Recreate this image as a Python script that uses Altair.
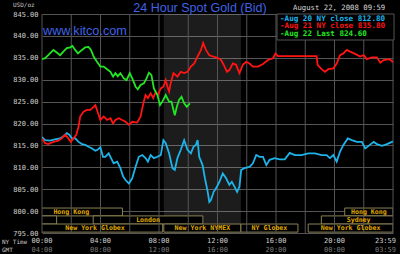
import altair as alt
import pandas as pd

# ---------------- data (hours after 00:00 NY time, USD/oz) ----------------
aug20_t = [0.0, 0.21, 0.55, 0.89, 1.24, 1.46, 1.70, 1.88, 2.04, 2.27, 2.50, 2.73, 2.96, 3.18, 3.42,
           3.65, 3.80, 3.99, 4.17, 4.33, 4.56, 4.72, 4.90, 5.14, 5.36, 5.55, 5.71, 5.94, 6.17, 6.40,
           6.62, 6.86, 7.08, 7.24, 7.43, 7.65, 7.89, 8.12, 8.30, 8.46, 8.69, 8.92, 9.08, 9.26, 9.49,
           9.72, 9.95, 10.18, 10.36, 10.52, 10.64, 10.75, 10.98, 11.14, 11.33, 11.44, 11.55, 11.74,
           11.90, 12.13, 12.36, 12.59, 12.81, 12.98, 13.16, 13.34, 13.50, 13.62, 13.84, 14.19, 14.42,
           14.65, 14.88, 15.11, 15.34, 15.56, 15.91, 16.25, 16.60, 16.94, 17.28, 17.74, 18.21, 18.66,
           19.12, 19.46, 19.69, 19.92, 20.15, 20.38, 20.61, 20.91, 21.18, 21.53, 21.87, 22.10, 22.33,
           22.68, 22.90, 23.25, 23.59, 23.93, 23.98]
aug20_p = [816.9, 816.2, 816.1, 816.4, 816.6, 817.1, 817.8, 817.4, 816.6, 816.6, 815.8, 815.3, 815.1,
           814.7, 814.3, 813.8, 814.0, 814.6, 812.4, 812.4, 813.2, 812.1, 810.9, 811.3, 809.8, 807.9,
           807.1, 806.3, 807.5, 810.1, 812.4, 812.8, 812.1, 811.3, 812.8, 812.1, 812.4, 812.8, 816.2,
           815.5, 813.2, 809.8, 809.4, 812.1, 814.0, 816.2, 814.0, 813.2, 814.7, 815.1, 816.2, 812.4,
           810.5, 807.5, 804.4, 802.1, 802.5, 804.4, 805.2, 806.7, 808.6, 807.5, 806.0, 806.7, 805.6,
           804.4, 805.6, 809.4, 809.8, 810.1, 810.9, 812.8, 812.4, 812.4, 810.5, 811.7, 812.1, 811.8,
           811.8, 813.3, 812.8, 812.8, 813.2, 813.2, 812.8, 812.8, 812.1, 812.8, 811.3, 813.6, 815.1,
           816.6, 816.2, 815.8, 815.8, 814.3, 814.9, 815.8, 815.3, 814.9, 815.3, 815.8, 816.0]

aug21_t = [0.0, 0.21, 0.43, 0.78, 1.12, 1.35, 1.58, 1.81, 1.97, 2.15, 2.34, 2.50, 2.61, 2.84, 3.07,
           3.30, 3.53, 3.65, 3.80, 3.99, 4.22, 4.45, 4.68, 4.86, 5.02, 5.25, 5.48, 5.71, 5.94, 6.17,
           6.51, 6.74, 6.93, 7.08, 7.24, 7.43, 7.61, 7.77, 7.93, 8.12, 8.30, 8.46, 8.58, 8.69, 8.80,
           8.99, 9.26, 9.49, 9.72, 9.95, 10.18, 10.41, 10.64, 10.87, 11.02, 11.21, 11.44, 11.67, 12.01,
           12.24, 12.47, 12.65, 12.81, 13.05, 13.27, 13.50, 13.73, 13.96, 14.19, 14.42, 14.77, 15.11,
           15.45, 15.80, 15.96, 16.14, 18.78, 18.84, 19.12, 19.35, 19.58, 19.92, 20.15, 20.38, 20.61,
           20.84, 21.07, 21.41, 21.75, 21.99, 22.21, 22.56, 22.90, 23.13, 23.36, 23.71, 23.93, 23.98]
aug21_p = [816.6, 815.5, 815.3, 815.8, 816.1, 816.6, 817.4, 816.6, 815.8, 816.6, 817.4, 819.3, 821.6,
           822.7, 823.1, 823.1, 823.8, 824.2, 822.7, 820.8, 821.6, 820.8, 821.2, 820.0, 820.8, 821.2,
           820.8, 820.4, 819.7, 820.4, 820.2, 821.6, 824.6, 826.5, 825.8, 826.9, 825.8, 827.2, 826.5,
           828.0, 828.4, 829.9, 828.4, 827.3, 829.2, 831.5, 830.7, 831.8, 831.5, 831.8, 833.0, 833.7,
           835.3, 836.8, 838.4, 836.8, 835.6, 835.3, 835.0, 834.5, 833.1, 831.8, 832.2, 833.7, 833.4,
           831.5, 833.4, 834.1, 833.7, 833.0, 833.0, 833.6, 834.5, 834.9, 836.0, 835.4, 835.4, 833.4,
           832.4, 831.8, 832.4, 832.6, 833.7, 835.6, 836.0, 836.8, 836.4, 835.9, 835.3, 835.6, 834.7,
           835.1, 835.1, 833.9, 834.5, 834.7, 834.3, 833.9]

aug22_t = [0.0, 0.21, 0.43, 0.78, 1.01, 1.24, 1.46, 1.70, 1.93, 2.08, 2.27, 2.46, 2.73, 2.96, 3.18,
           3.35, 3.53, 3.76, 3.99, 4.22, 4.45, 4.68, 4.86, 5.02, 5.18, 5.36, 5.59, 5.78, 6.00, 6.17,
           6.40, 6.55, 6.74, 6.97, 7.15, 7.31, 7.48, 7.65, 7.89, 8.07, 8.23, 8.46, 8.69, 8.85, 8.99,
           9.08, 9.22, 9.37, 9.54, 9.72, 9.90, 10.11]
aug22_p = [834.7, 834.9, 835.6, 836.8, 836.2, 835.6, 836.4, 837.2, 837.4, 837.7, 836.8, 836.0, 836.8,
           837.4, 837.5, 836.8, 835.3, 834.1, 833.0, 833.0, 832.4, 831.8, 830.7, 831.5, 830.8, 831.5,
           830.3, 829.9, 831.5, 830.3, 828.4, 827.8, 828.8, 829.2, 830.3, 831.6, 831.1, 828.0, 826.5,
           824.2, 825.0, 826.5, 825.0, 825.0, 823.1, 821.9, 823.8, 825.4, 826.1, 824.6, 823.8, 824.6]

series_names = ["Aug 20", "Aug 21", "Aug 22"]
series_colors = ["#1cb4ea", "#ff1414", "#22e622"]
legend_texts = ["-Aug 20 NY close 812.80", "-Aug 21 NY close 835.80", "-Aug 22 Last 824.60"]

# trading sessions (hours, NY time) and the row they sit in
market_names = ["Hong Kong", "Hong Kong", "Sydney", "London", "Sydney",
                "New York Globex", "New York NYMEX", "NY Globex", "New York Globex"]
market_start = [-1.5, 20.7, -5.0, 3.5, 19.1, -1.0, 8.33, 13.6, 18.2]
market_end = [5.5, 24.0, 1.0, 11.0, 24.2, 8.25, 13.6, 17.5, 24.0]
market_row = [0, 0, 1, 1, 1, 2, 2, 2, 2]
row_top = [800.7, 798.9, 797.05]
row_bottom = [798.9, 797.05, 795.2]

nymex_start = [8.33]
nymex_end = [13.6]

tick_hours = [0, 4, 8, 12, 16, 20, 24]
ny_labels = ["00:00", "04:00", "08:00", "12:00", "16:00", "20:00", "23:59"]
gmt_labels = ["04:00", "08:00", "12:00", "16:00", "20:00", "00:00", "03:59"]
grid_hours = list(range(0, 25, 2))
price_ticks = list(range(795, 850, 5))

# ---------------- tables ----------------
rows = []
for name, ts, ps in [("Aug 20", aug20_t, aug20_p), ("Aug 21", aug21_t, aug21_p), ("Aug 22", aug22_t, aug22_p)]:
    assert len(ts) == len(ps)
    for t, p in zip(ts, ps):
        rows.append({"series": name, "hour": t, "price": p})
lines_df = pd.DataFrame(rows)

markets_df = pd.DataFrame({
    "market": market_names, "start": market_start, "end": market_end, "row": market_row,
})
markets_df["top"] = [row_top[r] for r in market_row]
markets_df["bottom"] = [row_bottom[r] for r in market_row]
markets_df["mid_h"] = (markets_df["start"] + markets_df["end"]) / 2
markets_df["mid_p"] = (markets_df["top"] + markets_df["bottom"]) / 2

ticks_df = pd.DataFrame({"hour": tick_hours, "ny": ny_labels, "gmt": gmt_labels})
grid_df = pd.DataFrame({"hour": grid_hours})
nymex_df = pd.DataFrame({"start": nymex_start, "end": nymex_end})
legend_df = pd.DataFrame({"series": series_names, "label": legend_texts, "idx": [0, 1, 2]})
one = pd.DataFrame({"a": [0]})

W, H = 351, 219
MONO = "DejaVu Sans Mono"
GRID = "#555555"

xs = alt.Scale(domain=[0, 24], nice=False, zero=False)
ys = alt.Scale(domain=[795, 845], nice=False, zero=False)
cs = alt.Scale(domain=series_names, range=series_colors)
yax = alt.Axis(values=price_ticks, format=".2f", labelFont=MONO, labelFontSize=7,
               labelColor="#d0d0d0", labelPadding=4, ticks=False, domain=False,
               grid=True, gridColor=GRID, gridWidth=1, title=None)

# NYMEX shading
shade = alt.Chart(nymex_df).mark_rect(color="white", opacity=0.11).encode(
    x=alt.X("start:Q", scale=xs, axis=None), x2="end:Q",
    y=alt.value(0), y2=alt.value(H))

# market session boxes
boxes = alt.Chart(markets_df).mark_rect(fill="black", stroke="#8a8155", strokeWidth=1, clip=True).encode(
    x=alt.X("start:Q", scale=xs, axis=None), x2="end:Q",
    y=alt.Y("top:Q", scale=ys, axis=yax), y2="bottom:Q")

vgrid = alt.Chart(grid_df).mark_rule(color=GRID, strokeWidth=1).encode(
    x=alt.X("hour:Q", scale=xs, axis=None))

box_text = alt.Chart(markets_df).mark_text(font=MONO, fontSize=6.6, fontWeight="bold",
                                           color="#e0aa00", baseline="middle", clip=True).encode(
    x=alt.X("mid_h:Q", scale=xs, axis=None),
    y=alt.Y("mid_p:Q", scale=ys, axis=yax), text="market:N")

lines = alt.Chart(lines_df).mark_line(strokeWidth=1.8, clip=True).encode(
    x=alt.X("hour:Q", scale=xs, axis=None),
    y=alt.Y("price:Q", scale=ys, axis=yax),
    color=alt.Color("series:N", scale=cs, legend=None),
    order="hour:Q")

# legend panel
leg_box = alt.Chart(one).mark_rect(fill="black", stroke=GRID, strokeWidth=1).encode(
    x=alt.value(235), x2=alt.value(352), y=alt.value(0), y2=alt.value(26))
leg_text = alt.Chart(legend_df).transform_calculate(py="4.6 + 7.6 * datum.idx").mark_text(
    font=MONO, fontSize=7.6, fontWeight="bold", align="left", baseline="middle").encode(
    x=alt.value(238), y=alt.Y("py:Q", scale=None, axis=None),
    text="label:N", color=alt.Color("series:N", scale=cs, legend=None))

# x axis labels (NY time and GMT)
ny_main = alt.Chart(ticks_df).transform_filter("datum.hour < 24").mark_text(
    font=MONO, fontSize=7, color="#d0d0d0", baseline="middle").encode(
    x=alt.X("hour:Q", scale=xs, axis=None), y=alt.value(227), text="ny:N")
ny_last = alt.Chart(ticks_df).transform_filter("datum.hour >= 24").mark_text(
    font=MONO, fontSize=7, color="#d0d0d0", baseline="middle", align="right", dx=3).encode(
    x=alt.X("hour:Q", scale=xs, axis=None), y=alt.value(227), text="ny:N")
gmt_main = alt.Chart(ticks_df).transform_filter("datum.hour < 24").mark_text(
    font=MONO, fontSize=7, color="#7a7a7a", baseline="middle").encode(
    x=alt.X("hour:Q", scale=xs, axis=None), y=alt.value(236), text="gmt:N")
gmt_last = alt.Chart(ticks_df).transform_filter("datum.hour >= 24").mark_text(
    font=MONO, fontSize=7, color="#7a7a7a", baseline="middle", align="right", dx=3).encode(
    x=alt.X("hour:Q", scale=xs, axis=None), y=alt.value(236), text="gmt:N")
ny_name = alt.Chart(one).mark_text(text="NY Time", font=MONO, fontSize=6, color="#c8c8c8",
                                   align="left", baseline="middle").encode(
    x=alt.value(-40), y=alt.value(227.5))
gmt_name = alt.Chart(one).mark_text(text="GMT", font=MONO, fontSize=6, color="#c8c8c8",
                                    align="left", baseline="middle").encode(
    x=alt.value(-40), y=alt.value(235.5))

# header texts
title = alt.Chart(one).mark_text(text="24 Hour Spot Gold (Bid)", font="Liberation Sans", fontSize=12.5,
                                 color="#3f63e6", align="center", baseline="alphabetic").encode(
    x=alt.value(158), y=alt.value(-2.5))
kitco = alt.Chart(one).mark_text(text="www.kitco.com", font="Liberation Sans", fontSize=12.7,
                                 color="#3f63e6", align="left", baseline="alphabetic").encode(
    x=alt.value(1), y=alt.value(21))
stamp = alt.Chart(one).mark_text(text="August 22, 2008 09:59", font=MONO, fontSize=7.3,
                                 color="#d8d8d8", align="left", baseline="middle").encode(
    x=alt.value(251), y=alt.value(-5.7))
unit = alt.Chart(one).mark_text(text="USD/oz", font=MONO, fontSize=6, color="#c8c8c8",
                                align="left", baseline="middle").encode(
    x=alt.value(-29), y=alt.value(-9))

chart = alt.layer(
    shade, boxes, vgrid, box_text, lines, leg_box, leg_text,
    ny_main, ny_last, gmt_main, gmt_last, ny_name, gmt_name,
    title, kitco, stamp, unit,
).properties(
    width=W, height=H,
    autosize=alt.AutoSizeParams(type="none"),
    padding={"left": 42, "top": 14, "right": 7, "bottom": 21},
    background="black",
).configure_view(strokeWidth=0, fill="black")

chart.save("out.html", embed_options={"renderer": "svg", "actions": False})
